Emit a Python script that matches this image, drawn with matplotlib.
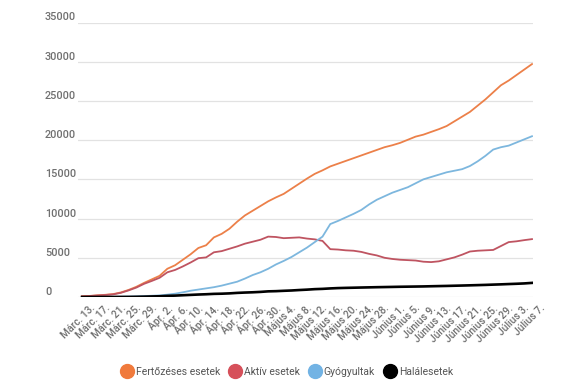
import matplotlib
matplotlib.use("Agg")
import matplotlib.pyplot as plt
import matplotlib.transforms as mtransforms
from matplotlib.lines import Line2D
import numpy as np

plt.rcParams['font.family'] = ['Roboto', 'DejaVu Sans']

# day index (0 = Márc. 13.), data every 2 days
days = list(range(0, 117, 2))

fertozeses = [90, 140, 210, 280, 370, 580, 900, 1300, 1800, 2250,
              2700, 3600, 4050, 4750, 5450, 6250, 6600, 7600, 8050, 8700, 9600, 10400, 11000, 11600, 12200,
              12700, 13150, 13800, 14450, 15100, 15700, 16150, 16650, 17000, 17350, 17700, 18050, 18400, 18750, 19100,
              19350, 19650, 20050, 20450, 20700, 21050, 21400, 21800, 22400, 23000, 23600, 24400, 25200, 26100, 27000,
              27600, 28300, 29000, 29700]

aktiv = [80, 120, 200, 255, 335, 530, 840, 1200, 1680, 2050,
         2450, 3150, 3450, 3900, 4400, 4950, 5050, 5700, 5850, 6150, 6450, 6800, 7050, 7300, 7700,
         7650, 7500, 7550, 7600, 7450, 7350, 7150, 6100, 6050, 5950, 5900, 5750, 5500, 5300, 5000,
         4850, 4750, 4700, 4650, 4500, 4450, 4550, 4800, 5050, 5400, 5800, 5900, 5950, 6000, 6500,
         7000, 7100, 7250, 7380]

gyogyultak = [5, 8, 12, 19, 25, 40, 55, 80, 120, 160,
              200, 300, 420, 600, 800, 950, 1100, 1250, 1450, 1700, 1950, 2350, 2800, 3150, 3600,
              4150, 4600, 5100, 5700, 6300, 7000, 7700, 9300, 9700, 10150, 10600, 11100, 11800, 12400, 12850,
              13300, 13650, 14000, 14500, 15000, 15300, 15600, 15900, 16100, 16300, 16700, 17300, 18000, 18800, 19100,
              19300, 19700, 20100, 20500]

halalesetek = [0, 0, 2, 3, 5, 7, 11, 24, 43, 69,
               94, 146, 176, 225, 270, 315, 351, 399, 421, 461, 524, 567, 601, 650, 720,
               745, 790, 830, 888, 938, 1002, 1037, 1094, 1137, 1163, 1185, 1208, 1229, 1251, 1268,
               1286, 1305, 1319, 1333, 1348, 1371, 1392, 1412, 1437, 1461, 1488, 1516, 1544, 1579, 1612,
               1651, 1687, 1731, 1799]

tick_days = list(range(0, 117, 4))
tick_labels = ["Márc. 13.", "Márc. 17.", "Márc. 21.", "Márc. 25.", "Márc. 29.",
               "Ápr. 2.", "Ápr. 6.", "Ápr. 10.", "Ápr. 14.", "Ápr. 18.", "Ápr. 22.", "Ápr. 26.", "Ápr. 30.",
               "Május 4.", "Május 8.", "Május 12.", "Május 16.", "Május 20.", "Május 24.", "Május 28.",
               "Június 1.", "Június 5.", "Június 9.", "Június 13.", "Június 17.", "Június 21.", "Június 25.", "Június 29.",
               "Július 3.", "Július 7."]

yticks = [0, 5000, 10000, 15000, 20000, 25000, 30000, 35000]

series_names = ["Fertőzéses esetek", "Aktív esetek", "Gyógyultak", "Halálesetek"]
line_colors = ["#ec8049", "#bf5461", "#7db7de", "#000000"]
marker_colors = ["#f07a3c", "#d6505a", "#72b3e4", "#000000"]

W, H = 575, 387
fig = plt.figure(figsize=(W / 100, H / 100), dpi=100)
ax = fig.add_axes([78 / W, 1 - 297 / H, (533 - 78) / W, (297 - 22.5) / H])

ax.plot(days, fertozeses, color=line_colors[0], lw=1.3, zorder=3)
ax.plot(days, aktiv, color=line_colors[1], lw=1.3, zorder=3)
ax.plot(days, gyogyultak, color=line_colors[2], lw=1.3, zorder=3)
ax.plot(days, halalesetek, color=line_colors[3], lw=1.9, zorder=4)

ax.set_xlim(-1.03, 116.26)
ax.set_ylim(0, 35000)

for s in ax.spines.values():
    s.set_visible(False)

ax.set_yticks(yticks)
ax.set_yticklabels([str(v) for v in yticks], ha='left', va='bottom',
                   fontsize=7.8, color='#707070', fontweight='medium')
ax.tick_params(axis='y', length=0, pad=23.8)
ax.yaxis.grid(True, color='#e2e2e2', lw=0.9)
ax.set_axisbelow(True)

ax.set_xticks(tick_days)
ax.set_xticklabels(tick_labels, rotation=45, ha='right', va='center',
                   rotation_mode='anchor', fontsize=7.4, color='#6e6e6e',
                   fontweight='medium')
ax.tick_params(axis='x', length=0, pad=7)
offset = mtransforms.ScaledTranslation(11 / 100, 0, fig.dpi_scale_trans)
for lab in ax.get_xticklabels():
    lab.set_transform(lab.get_transform() + offset)

handles = [Line2D([], [], marker='o', linestyle='none', markersize=10,
                  markerfacecolor=c, markeredgecolor=c) for c in marker_colors]
leg = fig.legend(handles, series_names, loc='center', bbox_to_anchor=(0.5, 1 - 372 / H),
                 ncol=4, frameon=False, fontsize=7.5, handletextpad=0.3,
                 columnspacing=1.0, handlelength=1.0, labelcolor='#555555')

fig.savefig("out.png", dpi=100, facecolor='white')
